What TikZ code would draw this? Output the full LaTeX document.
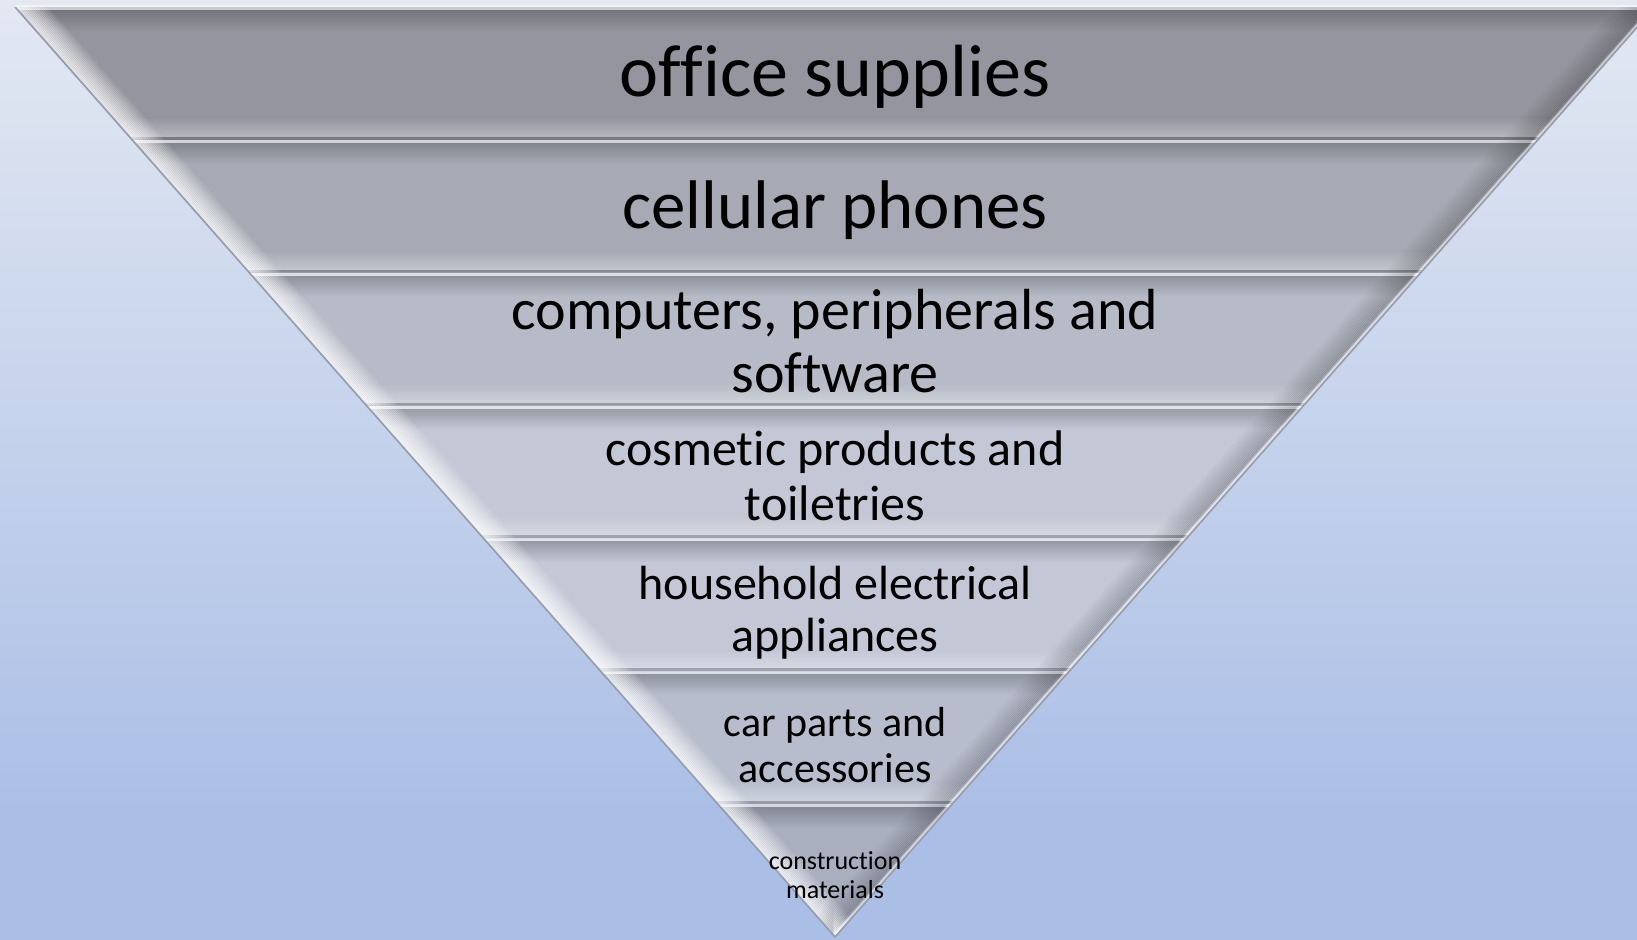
\documentclass[tikz,border=0pt]{standalone}
\usepackage{fontspec}
\setmainfont{Carlito}[Ligatures=NoCommon]
\usetikzlibrary{calc}

% backdrop and band colours
\definecolor{bgtop}{RGB}{227,232,242}
\definecolor{bgbot}{RGB}{171,191,230}
\definecolor{bandA}{RGB}{149,149,159}
\definecolor{bandB}{RGB}{167,170,180}
\definecolor{bandC}{RGB}{183,187,199}
\definecolor{bandD}{RGB}{196,199,213}
\definecolor{bandE}{RGB}{195,199,214}
\definecolor{bandF}{RGB}{184,189,205}
\definecolor{bandG}{RGB}{170,175,192}
\definecolor{rim}{RGB}{150,156,172}

\tikzset{
  band text/.style={align=center, text=black, inner sep=0pt},
}

\begin{document}
\begin{tikzpicture}[x=0.5pt, y=-0.5pt]
\useasboundingbox (0,0) rectangle (1637,940);

% backdrop
\fill[top color=bgtop, bottom color=bgbot] (0,0) rectangle (1637,811);
\fill[bgbot] (0,810) rectangle (1637,940);

% seven bevelled bands of the funnel
\foreach \k/\base in {0/bandA,1/bandB,2/bandC,3/bandD,4/bandE,5/bandF,6/bandG} {
  \pgfmathsetmacro\yt{7+\k*132.857}
  \pgfmathsetmacro\yb{\yt+132.857}
  \pgfmathsetmacro\wt{0.88172*(937-\yt)}
  \pgfmathsetmacro\wb{max(0.88172*(937-\yb),0)}
  \begin{scope}
    \clip (835-\wt,\yt) -- (835+\wt,\yt) -- (835+\wb,\yb) -- (835-\wb,\yb) -- cycle;
    \fill[\base] (0,\yt) rectangle (1637,\yb);
    \fill[top color=\base!78!black, bottom color=\base] (0,\yt+3) rectangle (1637,\yt+24);
    \fill[top color=\base, bottom color=\base!68!white] (0,\yb-22) rectangle (1637,\yb-3);
    \fill[\base!50!white] (0,\yt) rectangle (1637,\yt+3);
    \fill[\base!82!black] (0,\yb-3) rectangle (1637,\yb);
    % light bevel on the left, shaded bevel on the right
    \foreach \i in {1,...,16} {
      \pgfmathsetmacro\opl{0.65*(1-\i/17)}
      \pgfmathsetmacro\opr{0.14*(1-\i/17)}
      \draw[white, opacity=\opl, line width=1.1pt]
        (835-\wt+2*\i,\yt) -- (835-\wb+2*\i,\yb);
      \draw[black, opacity=\opr, line width=1.1pt]
        (835+\wt-2*\i-4,\yt) -- (835+\wb-2*\i-4,\yb);
    }
    \draw[white, opacity=0.5, line width=1.2pt] (835+\wt-2,\yt) -- (835+\wb-2,\yb);
  \end{scope}
}

% outer rim
\draw[rim, line width=0.8pt] (15,7) -- (835,937) -- (1655,7);
\draw[white, opacity=0.5, line width=1pt] (15,6) -- (1637,6);

% labels
\node[band text, font=\fontsize{37}{40}\selectfont] (office) at (835,77) {office supplies};
\node[band text, font=\fontsize{34.4}{38}\selectfont] (phones) at (835,210) {cellular phones};
\node[band text, font=\fontsize{29}{31.5}\selectfont] (computers) at (835,341) {computers, peripherals and\\software};
\node[band text, font=\fontsize{25}{27.7}\selectfont] (cosmetics) at (835,476) {cosmetic products and\\toiletries};
\node[band text, font=\fontsize{24}{26}\selectfont] (household) at (835,613) {household electrical\\appliances};
\node[band text, font=\fontsize{21}{23}\selectfont] (carparts) at (835,745) {car parts and\\accessories};
\node[band text, font=\fontsize{13}{14.6}\selectfont] (construction) at (835,875) {construction\\materials};
\end{tikzpicture}
\end{document}
